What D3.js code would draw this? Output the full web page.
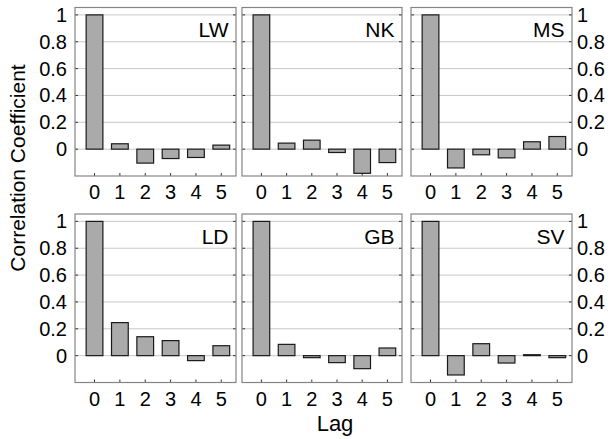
<!DOCTYPE html>
<meta charset="utf-8">
<style>
body { margin: 0; background: #fff; }
text { font-family: "Liberation Sans", Arial, Helvetica, sans-serif; fill: #000; }
.grid line { stroke: #c8c8c8; stroke-width: 1px; }
.frame { fill: none; stroke: #858585; stroke-width: 1.2px; }
.tick-mark { stroke: #333; stroke-width: 1px; }
.bar { fill: #aaaaaa; stroke: #1a1a1a; stroke-width: 1.2px; }
</style>
<body>
<script src="https://d3js.org/d3.v7.min.js"></script>
<script>

// lag values shared by every panel
var lags = [0, 1, 2, 3, 4, 5];
var yTicks = [0, 0.2, 0.4, 0.6, 0.8, 1];

// panel names, row by row
var names = ["LW", "NK", "MS", "LD", "GB", "SV"];

// autocorrelation per panel
var LW = [1, 0.04, -0.104, -0.07, -0.062, 0.03];
var NK = [1, 0.045, 0.067, -0.025, -0.18, -0.1];
var MS = [1, -0.14, -0.042, -0.065, 0.055, 0.094];
var LD = [1, 0.246, 0.141, 0.112, -0.037, 0.074];
var GB = [1, 0.084, -0.015, -0.052, -0.097, 0.057];
var SV = [1, -0.144, 0.089, -0.055, 0.007, -0.015];

var series = [LW, NK, MS, LD, GB, SV];

var width = 613, height = 439;

// panel frames (left, right) per column and (top, bottom) per row
var cols = [[75, 236], [242, 402], [411, 572]];
var rows = [[7.5, 176], [214, 382.5]];

var svg = d3.select("body")
    .append("svg")
        .attr("width", width)
        .attr("height", height);

names.forEach(function(name, i) {
    var c = i % 3, r = Math.floor(i / 3);
    var vals = series[i];

    var x = d3.scaleLinear().domain([-0.77, 5.58]).range(cols[c]);
    var y = d3.scaleLinear().domain([-0.2, 1.055]).range([rows[r][1], rows[r][0]]);

    var g = svg.append("g");

    // grid lines
    g.append("g").attr("class", "grid")
        .selectAll("line").data(yTicks).enter().append("line")
        .attr("x1", cols[c][0]).attr("x2", cols[c][1])
        .attr("y1", function(d) { return y(d); })
        .attr("y2", function(d) { return y(d); });

    // inward tick marks on both sides
    yTicks.forEach(function(t) {
        g.append("line").attr("class", "tick-mark")
            .attr("x1", cols[c][0]).attr("x2", cols[c][0] + 3)
            .attr("y1", y(t)).attr("y2", y(t));
        g.append("line").attr("class", "tick-mark")
            .attr("x1", cols[c][1] - 3).attr("x2", cols[c][1])
            .attr("y1", y(t)).attr("y2", y(t));
    });
    lags.forEach(function(l) {
        g.append("line").attr("class", "tick-mark")
            .attr("x1", x(l)).attr("x2", x(l))
            .attr("y1", rows[r][1]).attr("y2", rows[r][1] - 3);
    });

    // bars
    var bw = x(0.33) - x(0);
    g.selectAll("rect.bar").data(lags).enter().append("rect")
        .attr("class", "bar")
        .attr("x", function(d) { return x(d) - bw; })
        .attr("width", 2 * bw)
        .attr("y", function(d, k) { return y(Math.max(0, vals[k])); })
        .attr("height", function(d, k) { return Math.abs(y(vals[k]) - y(0)); });

    // frame
    g.append("rect").attr("class", "frame")
        .attr("x", cols[c][0]).attr("y", rows[r][0])
        .attr("width", cols[c][1] - cols[c][0])
        .attr("height", rows[r][1] - rows[r][0]);

    // panel name
    g.append("text")
        .attr("x", cols[c][1] - 7.5).attr("y", rows[r][0] + 29.5)
        .attr("text-anchor", "end")
        .style("font-size", "21px")
        .text(name);

    // x tick labels
    g.selectAll("text.xl").data(lags).enter().append("text")
        .attr("class", "xl")
        .attr("x", function(d) { return x(d); })
        .attr("y", rows[r][1] + 23)
        .attr("text-anchor", "middle")
        .style("font-size", "20px")
        .text(function(d) { return d; });

    // y tick labels on outer columns
    if (c != 1) {
        g.selectAll("text.yl").data(yTicks).enter().append("text")
            .attr("class", "yl")
            .attr("x", c == 0 ? cols[c][0] - 8 : cols[c][1] + 5)
            .attr("y", function(d) { return y(d); })
            .attr("dy", "0.35em")
            .attr("text-anchor", c == 0 ? "end" : "start")
            .style("font-size", "20px")
            .text(function(d) { return d; });
    }
});

// axis titles
svg.append("text")
    .attr("transform", "translate(25,168) rotate(-90)")
    .attr("text-anchor", "middle")
    .style("font-size", "21px")
    .text("Correlation Coefficient");

svg.append("text")
    .attr("x", 335).attr("y", 431)
    .attr("text-anchor", "middle")
    .style("font-size", "22px")
    .text("Lag");

</script>
</body>
